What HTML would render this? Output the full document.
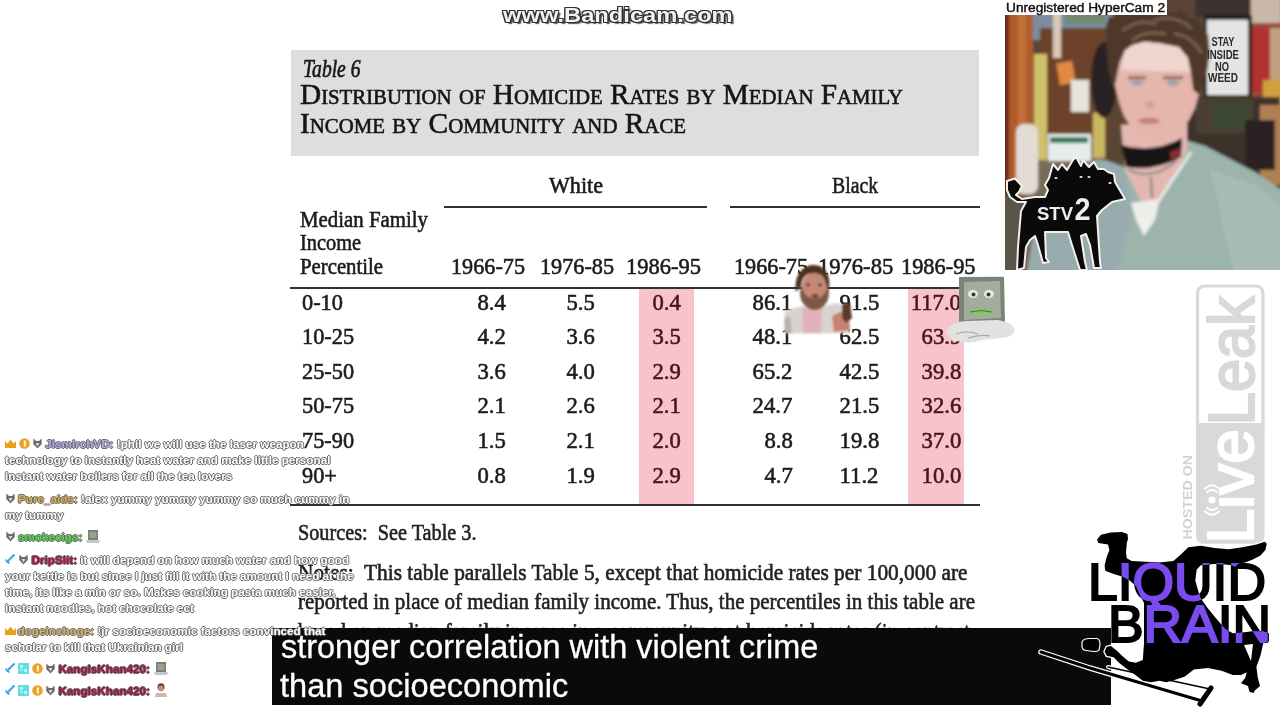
<!DOCTYPE html>
<html><head><meta charset="utf-8">
<style>
html,body{margin:0;padding:0;width:1280px;height:720px;overflow:hidden;background:#fff;}
body{position:relative;}
.a{position:absolute;}
.t{position:absolute;white-space:nowrap;}
.rule{position:absolute;background:#303030;}
.tt{-webkit-text-stroke:0.6px currentColor;}
.pink{position:absolute;background:#f7c4cb;}
.sub{z-index:6;-webkit-text-stroke:0.3px #fff;}
.bandi{z-index:9;text-shadow:0 0 1px #222,1px 1px 0 #333,-1px -1px 0 #333,1px -1px 0 #333,-1px 1px 0 #333,2px 2px 1px #555;}
.hyper{z-index:9;-webkit-text-stroke:0.4px #111;}
#chat{position:absolute;left:0;top:0;z-index:8;font-family:'Liberation Sans',sans-serif;font-weight:bold;font-size:11.7px;line-height:16px;color:#fff;}
#chat .ln{position:absolute;left:5px;white-space:nowrap;text-shadow:1px 0 0 #6a6a6a,-1px 0 0 #6a6a6a,0 1px 0 #6a6a6a,0 -1px 0 #6a6a6a;}
</style></head>
<body>
<!-- title box -->
<div class="a" style="left:291px;top:50px;width:688px;height:105.5px;background:#dedede;"></div>
<!-- rules -->
<div class="rule" style="left:444px;top:206px;width:263px;height:2px;"></div>
<div class="rule" style="left:730px;top:206px;width:250px;height:2px;"></div>
<div class="rule" style="left:290px;top:287px;width:690px;height:2px;"></div>
<div class="pink" style="left:639px;top:289px;width:55px;height:215px;"></div>
<div class="pink" style="left:908px;top:289px;width:56px;height:215px;"></div>
<div class="rule" style="left:290px;top:504px;width:690px;height:2px;"></div>
<!-- subtitle box -->
<div class="a" style="left:272px;top:628px;width:839px;height:77px;background:#0a0a0a;z-index:5;"></div>

<!-- webcam -->
<svg class="a" style="left:1005px;top:0;z-index:3" width="275" height="270" viewBox="0 0 275 270">
<defs>
<filter id="bl" x="-5%" y="-5%" width="110%" height="110%"><feGaussianBlur stdDeviation="1.6"/></filter>
<filter id="bl2"><feGaussianBlur stdDeviation="0.6"/></filter>
<clipPath id="wc"><rect width="275" height="270"/></clipPath>
</defs>
<g clip-path="url(#wc)">
<g filter="url(#bl)">
<rect x="-5" y="-5" width="290" height="280" fill="#5a4436"/>
<!-- door frame -->
<rect x="-5" y="-5" width="10" height="280" fill="#6a2c1e"/>
<rect x="4" y="-5" width="24" height="280" fill="#b05c2c"/>
<rect x="13" y="-5" width="8" height="280" fill="#c0703a"/>
<!-- wall top -->
<rect x="28" y="10" width="80" height="30" fill="#7d8ca0"/>
<rect x="60" y="10" width="40" height="14" fill="#6f8a70"/>
<!-- board -->
<rect x="35" y="28" width="70" height="110" fill="#6c422c"/>
<rect x="36" y="138" width="60" height="40" fill="#7a6048"/>
<!-- figure hanging -->
<rect x="48" y="10" width="8" height="48" fill="#d8c8b8"/>
<!-- orange note -->
<rect x="53" y="62" width="16" height="22" fill="#e08a40" transform="rotate(-10 61 73)"/>
<!-- small paper -->
<rect x="66" y="80" width="18" height="32" fill="#e8e4dc"/>
<!-- caution tapes -->
<rect x="29" y="54" width="13" height="130" fill="#cfc06a"/>
<rect x="88" y="113" width="12" height="45" fill="#c8b860"/>
<!-- hat fur -->
<ellipse cx="99" cy="80" rx="13" ry="38" fill="#2c2420"/>
<!-- posters right -->
<rect x="240" y="-5" width="40" height="125" fill="#9a4a3a"/>
<rect x="246" y="-5" width="30" height="28" fill="#c8b8a8"/>
<rect x="247" y="28" width="18" height="64" fill="#b03030"/>
<rect x="265" y="28" width="15" height="55" fill="#c0a080"/>
<rect x="258" y="80" width="22" height="38" fill="#d0a040"/>
<rect x="190" y="-5" width="55" height="22" fill="#3a3230"/>
<!-- sign -->
<rect x="199" y="15" width="48" height="84" fill="#1e1a18"/>
<rect x="202" y="20" width="41" height="75" fill="#e4e4e2"/>
<!-- dark area right mid -->
<rect x="175" y="97" width="100" height="100" fill="#3e332c"/>
<rect x="191" y="98" width="57" height="35" fill="#4a4030"/>
<rect x="208" y="105" width="34" height="22" fill="#3a4a30"/>
<rect x="255" y="105" width="25" height="80" fill="#b08052"/>
<rect x="240" y="120" width="30" height="50" fill="#2a2422"/>
<!-- lower-left background -->
<rect x="20" y="160" width="80" height="115" fill="#7a6a58"/>
<rect x="-5" y="195" width="25" height="80" fill="#5a5448"/>
<!-- white sticker -->
<rect x="11" y="124" width="22" height="70" rx="8" fill="#e4dcd4"/>
<!-- emergency sign -->
<rect x="43" y="134" width="43" height="27" fill="#e8ecea"/>
<rect x="45" y="137" width="38" height="6" fill="#2a7a5a"/>
<!-- shirt -->
<path d="M30 225 L60 185 L90 160 L100 160 L122 168 L140 205 L155 203 L180 140 L200 146 L250 172 L280 192 L280 275 L22 275 Z" fill="#9cb4ac"/>
<path d="M30 225 L60 185 L90 160 L100 160 L118 168 L128 210 L112 275 L22 275 Z" fill="#98acb0"/>
<path d="M205 170 L250 185 L275 205 L280 275 L230 275 Z" fill="#a8bcb6"/>
<!-- neck -->
<path d="M116 125 L182 120 L182 150 L170 175 L155 203 L137 203 L120 170 Z" fill="#e4b8b0"/>
<!-- undershirt -->
<path d="M126 203 L155 199 L150 220 L139 236 L131 220 Z" fill="#eeeeea"/>
<path d="M154 200 L186 152" stroke="#e8ece8" stroke-width="3"/>
<!-- face -->
<path d="M109.8,85 L114.3,63 L119.7,50.5 L127,45 L139.6,41.5 L155.8,43.3 L174,47 L183,57.8 L186.5,75.8 L188.3,90 L193.8,94 L190,108 L184,120 L176,131 L163,139 L150,141 L138,138 L127,129 L119,116 L114,102 Z" fill="#e4b6ac"/>
<path d="M116,70 L119.7,50.5 L127,45 L139.6,41.5 L155.8,43.3 L174,47 L183,57.8 L186,72 Z" fill="#f0d6ce"/>
<!-- hair -->
<path d="M100.8,27 L104,17 L112,16 L118,11 L128,14 L136,9 L146,13 L156,8 L166,13 L176,11 L184,18 L194,20 L197,28 L203,34 L204.6,50.5 L202.8,68.6 L197.4,85 L193.8,94 L188.3,90 L186.5,75.8 L183,57.8 L174,47 L155.8,43.3 L139.6,41.5 L127,45 L119.7,50.5 L114.3,63 L111.6,77.6 L109.8,85 L107,85 L103.5,68.6 L101.7,45 Z" fill="#4e382a"/>
<g stroke="#76604e" stroke-width="3" fill="none" stroke-linecap="round"><path d="M118 30 Q135 18 150 24"/><path d="M150 20 Q170 14 186 28"/><path d="M128 40 Q140 30 160 34"/><path d="M170 34 Q186 36 196 52"/></g>
<!-- eyes/brows/mouth -->
<rect x="123" y="76" width="18" height="3.5" fill="#9a7068"/>
<rect x="158" y="76" width="20" height="3.5" fill="#9a7068"/>
<ellipse cx="132" cy="83" rx="6.5" ry="2.8" fill="#98a4a8"/>
<ellipse cx="168" cy="83" rx="6.5" ry="2.8" fill="#98a4a8"/>
<ellipse cx="145" cy="105" rx="5" ry="4" fill="#d8a098"/>
<ellipse cx="144" cy="121" rx="11" ry="3.2" fill="#c88078"/>
<!-- choker -->
<path d="M116 145 Q148 154 177 138 L176 157 Q150 172 121 167 Z" fill="#161616"/>
<path d="M165 152 L175 148 L175 156 L166 160 Z" fill="#8a2a30"/>
<path d="M124 170 Q148 182 172 160" stroke="#8a8a88" stroke-width="2.2" fill="none"/>
<path d="M146 177 L147 198" stroke="#7a7a78" stroke-width="2" fill="none"/>
</g>
<!-- sign text -->
<g font-family="'Liberation Sans',sans-serif" font-weight="bold" font-size="12" fill="#2a2a2a" text-anchor="middle" filter="url(#bl2)">
<text x="218" y="46" textLength="23" lengthAdjust="spacingAndGlyphs">STAY</text><text x="218" y="58.5" textLength="32" lengthAdjust="spacingAndGlyphs">INSIDE</text><text x="217" y="70.5" textLength="14" lengthAdjust="spacingAndGlyphs">NO</text><text x="218" y="82" textLength="30" lengthAdjust="spacingAndGlyphs">WEED</text>
</g>
<!-- dog -->
<path d="M2 181 L10 178.5 L17 186 L14 192 L11 195 L17 199 L30 197 L40 197 L43 190 L40 185 L44 178 L48 164 L53 170 L57 164 L62 170 L68 160 L71 157 L76 166 L78 160 L84 167 L89 162 L93 169 L99 169 L103 172 L109 174 L110 182 L120 199 L107 202 L97 210 L92 216 L95 262 L96 268 L89 268 L85 245 L81 234 L76 236 L80 262 L82 270 L75 270 L67 245 L63 232 L40 232 L41 258 L44 262 L38 263 L33 245 L30 236 L25 240 L21 247 L19 268 L12 270 L13 247 L16 211 L21 202 L12 202 L5 197 L2 190 Z" fill="#0a0a0a" stroke="#f4f0ec" stroke-width="2" stroke-linejoin="round"/>
<g fill="#eee" font-family="'Liberation Sans',sans-serif" font-weight="bold">
<text x="32" y="219.5" font-size="19" textLength="36" lengthAdjust="spacingAndGlyphs">STV</text>
<text x="69.6" y="219.5" font-size="31" textLength="16" lengthAdjust="spacingAndGlyphs">2</text>
</g>
<ellipse cx="51" cy="178" rx="1.6" ry="1" fill="#eee"/><ellipse cx="76" cy="177" rx="1.6" ry="1" fill="#eee"/><ellipse cx="84" cy="177" rx="1.6" ry="1" fill="#eee"/><ellipse cx="105" cy="183" rx="1.6" ry="1" fill="#eee"/>
</g>
</svg>
<div class="a" style="left:1004px;top:0;width:163px;height:15px;background:#fff;z-index:4"></div>

<!-- LiveLeak watermark -->
<svg class="a" style="left:1175px;top:280px;z-index:2" width="100" height="270" viewBox="1175 280 100 270">
<path d="M1197.5 425 L1197.5 294 Q1197.5 286 1205.5 286 L1255 286 Q1263 286 1263 294 L1263 425" fill="none" stroke="#d9d9d9" stroke-width="3.2"/>
<path d="M1195.9 423 L1264.6 423 L1264.6 535 Q1264.6 543.7 1256 543.7 L1204.5 543.7 Q1195.9 543.7 1195.9 535 Z" fill="#d9d9d9"/>
<g font-family="'Liberation Sans',sans-serif" font-size="64" stroke-width="2.2">
<text transform="translate(1253.5 425.2) rotate(-90)" fill="#d9d9d9" stroke="#d9d9d9" textLength="129" lengthAdjust="spacingAndGlyphs">Leak</text>
<text transform="translate(1253 543.5) rotate(-90)" fill="#fff" stroke="#fff" textLength="114.5" lengthAdjust="spacingAndGlyphs">Live</text>
</g>
<rect x="1201" y="484" width="18" height="30" fill="#d9d9d9"/>
<g fill="none" stroke="#fff" stroke-width="2" stroke-linecap="round"><path d="M1207 492 Q1212 488 1217 492"/><path d="M1207 508 Q1212 512 1217 508"/><path d="M1205 488.5 Q1212 482 1219 488.5"/><path d="M1205 511.5 Q1212 518 1219 511.5"/></g>
<circle cx="1212" cy="500" r="3.6" fill="#fff"/>
<text transform="translate(1191.5 539.5) rotate(-90)" font-family="'Liberation Sans',sans-serif" font-weight="bold" font-size="13.5" fill="#d2d2d2" textLength="84.5" lengthAdjust="spacingAndGlyphs">HOSTED ON</text>
</svg>
<!-- Liquid Brain logo -->
<svg class="a" style="left:1030px;top:520px;z-index:7" width="250" height="200" viewBox="1030 520 250 200">
<defs>
<clipPath id="silc"><path id="silp" d="M1097,539.6 L1101,534.7 L1110.8,532.6 L1122,532 L1127.5,534 L1128,539 L1126.8,543 L1126,552.8 L1126.8,558.3 L1131.7,561 L1145.6,561.8 L1159.4,562.5 L1173.3,561 L1180.3,555 L1188.3,547.2 L1200.8,545.8 L1214.7,548 L1228.6,549.3 L1242.5,547.2 L1256.4,544.4 L1264.7,541.7 L1266.8,543.75 L1265.4,550 L1260.5,555.5 L1252.2,559.7 L1245.3,562.5 L1238.3,563.5 L1235.6,566.7 L1231.4,565.3 L1225.8,564.6 L1214.7,563.9 L1207.8,564.6 L1200.8,565.3 L1196.7,569.4 L1195.3,580.5 L1198,590.3 L1200.8,598.6 L1207.8,608.3 L1214.7,616.7 L1221.7,625 L1225.8,629.2 L1232.8,633.3 L1242.5,632.6 L1252.2,631.25 L1263.3,631.25 L1268.9,633.3 L1268.9,641.7 L1263.3,643 L1260.5,655.6 L1256.4,666.7 L1257.8,677.8 L1260,686 L1255,690.3 L1253.6,693 L1249.4,691.7 L1248,686 L1241,683.3 L1245.3,677.8 L1246.7,672.2 L1241,675 L1232.8,675 L1221.7,670.8 L1207.8,668 L1193.9,669.4 L1184.4,676.7 L1176,679.4 L1166.4,682.2 L1159.4,680.8 L1151,682.2 L1142.8,680.8 L1135.8,675.3 L1126,668.3 L1119,662.8 L1113.6,657.2 L1106.7,655.8 L1104.6,651.7 L1106.7,646.8 L1110.8,646 L1116.4,650.3 L1122,655.8 L1128.9,661.4 L1135.8,662.8 L1142.8,660 L1144,643.3 L1144,603 L1140,595 L1136,586 L1129,580 L1122,576.4 L1112.2,573.6 L1105.3,570.8 L1104.6,565.3 L1106.7,557 L1109.4,550 L1108,544.4 L1098.3,543 Z"/></clipPath>
</defs>
<use href="#silp" fill="none" stroke="#fff" stroke-width="2.6"/>
<g font-family="'Liberation Sans',sans-serif" font-size="51" stroke="#000" stroke-width="2">
<text x="1088" y="600" textLength="178" lengthAdjust="spacingAndGlyphs" fill="#000">LIQUID</text>
<text x="1108" y="641.7" textLength="163" lengthAdjust="spacingAndGlyphs" fill="#000">BRAIN</text>
</g>
<!-- crutch -->
<g stroke-linecap="round">
<path d="M1041 652 L1090 668 L1202 701" stroke="#fff" stroke-width="5.5" fill="none"/>
<path d="M1108 667 L1210 689" stroke="#fff" stroke-width="4"/>
<path d="M1041 652 L1090 668 L1202 701" stroke="#000" stroke-width="3" fill="none"/>
<path d="M1108 667 L1210 689" stroke="#000" stroke-width="1.6"/>
<path d="M1211 688 L1200 704" stroke="#000" stroke-width="5"/>
</g>
<path d="M1082 642 Q1083 638.5 1090 638.5 L1097 638.5 Q1100 639 1100 645 L1099 650 Q1098 651.5 1094 651.5 L1086 650.5 Q1081.5 650 1082 645 Z" fill="#000" stroke="#fff" stroke-width="1.2"/>
<use href="#silp" fill="#000"/>
<path d="M1244,645 L1253,644 L1251,661 Z" fill="#fff"/>
<g clip-path="url(#silc)" font-family="'Liberation Sans',sans-serif" font-size="51" stroke="#7a4cf0" stroke-width="2">
<text x="1088" y="600" textLength="178" lengthAdjust="spacingAndGlyphs" fill="#7a4cf0">LIQUID</text>
<text x="1108" y="641.7" textLength="163" lengthAdjust="spacingAndGlyphs" fill="#7a4cf0">BRAIN</text>
</g>
</svg>

<!-- meme man -->
<svg class="a" style="left:780px;top:262px;z-index:4" width="80" height="75" viewBox="780 262 80 75">
<defs><filter id="mb"><feGaussianBlur stdDeviation="0.8"/></filter></defs>
<g filter="url(#mb)">
<path d="M784.5 333.3 L784.5 312 L792 308.5 L803 306 L822 306 L838 303 L846 308 L850 333.3 Z" fill="#d8d2d0"/>
<path d="M802 309 L822 308 L821 333.3 L803 333.3 Z" fill="#e2b2ba"/>
<path d="M784.5 318 L790 316 L792 333.3 L784.5 333.3 Z" fill="#b8b2b0"/>
<ellipse cx="814.5" cy="293" rx="14.5" ry="17" fill="#7a5a48"/>
<ellipse cx="814.5" cy="285.5" rx="12.5" ry="13" fill="#c48878"/>
<path d="M796 292 C794 278 800 266 813 265 C826 265 831 276 829 290 L826 284 C825 276 820 273 814 273 C806 273 802 277 801 286 Z" fill="#4a3022"/>
<path d="M803 297 Q814 306 826 297 Q823 302 814 303 Q805 302 803 297 Z" fill="#7a5a48"/>
<ellipse cx="808" cy="285" rx="2.2" ry="1.4" fill="#5a3830"/><ellipse cx="820" cy="285" rx="2.2" ry="1.4" fill="#5a3830"/>
<ellipse cx="815" cy="296" rx="3.5" ry="2.2" fill="#8a4038"/>
<path d="M832 316 L840 312 L849 314 L850 330 L834 332 Z" fill="#c88070"/>
<path d="M842 304 L850 303 L852 318 L846 323 L842 318 Z" fill="#5a3a28"/>
</g>
</svg>
<!-- dollar bill meme -->
<svg class="a" style="left:940px;top:272px;z-index:4" width="80" height="76" viewBox="940 272 80 76">
<defs><filter id="db"><feGaussianBlur stdDeviation="0.7"/></filter></defs>
<g filter="url(#db)">
<path d="M959 277 L1004 276.8 L1005 323 L959 324 Z" fill="#7c8474"/>
<path d="M964 282 L1000 281 L1001 318 L964 320 Z" fill="#a4aca0"/>
<ellipse cx="973" cy="294" rx="5" ry="4" fill="#e8ece4"/><ellipse cx="989" cy="294" rx="5" ry="4" fill="#e8ece4"/>
<circle cx="973.5" cy="294.5" r="2" fill="#303830"/><circle cx="988.5" cy="294.5" r="2" fill="#303830"/>
<ellipse cx="981" cy="312" rx="12" ry="4" fill="#8cc070"/>
<path d="M970 312 Q981 309 992 312" stroke="#4a7040" stroke-width="1" fill="none"/>
<path d="M946 332 Q950 322 966 321 L998 320 Q1012 322 1015 330 Q1012 338 1000 338 L982 340 Q972 344 962 342 Q948 340 946 332 Z" fill="#e2e2e0"/>
<path d="M956 334 Q966 330 978 334 M968 338 Q980 334 990 336" stroke="#a8a8a8" stroke-width="1.2" fill="none"/>
</g>
</svg>
<div id="chat"><svg class="a" style="left:5px;top:439.3px" width="11" height="9" viewBox="0 0 11 9"><path d="M0 2 L2.5 4.5 L5.5 0.5 L8.5 4.5 L11 2 L11 9 L0 9 Z" fill="#e8a020"/></svg>
<svg class="a" style="left:18.5px;top:438.3px" width="11" height="11" viewBox="0 0 11 11"><circle cx="5.5" cy="5.5" r="5.3" fill="#eaa22a"/><rect x="4.8" y="2.5" width="2" height="6" fill="#fff4d8"/></svg>
<svg class="a" style="left:32.5px;top:438.3px" width="9" height="11" viewBox="0 0 9 11"><path d="M0.5 0.5 L3 3 L6 3 L8.5 0.5 L8.8 6 L4.5 10.5 L0.2 6 Z" fill="#6a6a6a"/><path d="M2.5 5 L4.5 8.5 L6.5 5 Z" fill="#d8d8d8"/></svg>
<div class="ln" style="left:45.3px;top:436.2px"><span style="color:#bba4ea">JismirchVD:</span> !phil we will use the laser weapon</div>
<div class="ln" style="left:5px;top:452.2px">technology to instantly heat water and make little personal</div>
<div class="ln" style="left:5px;top:468.1px">instant water boilers for all the tea lovers</div>
<svg class="a" style="left:5.5px;top:493px" width="9" height="11" viewBox="0 0 9 11"><path d="M0.5 0.5 L3 3 L6 3 L8.5 0.5 L8.8 6 L4.5 10.5 L0.2 6 Z" fill="#6a6a6a"/><path d="M2.5 5 L4.5 8.5 L6.5 5 Z" fill="#d8d8d8"/></svg>
<div class="ln" style="left:18px;top:490.9px"><span style="color:#deb04e">Pure_aids:</span> !alex yummy yummy yummy so much cummy in</div>
<div class="ln" style="left:5px;top:506.9px">my tummy</div>
<svg class="a" style="left:5.5px;top:531.4px" width="9" height="11" viewBox="0 0 9 11"><path d="M0.5 0.5 L3 3 L6 3 L8.5 0.5 L8.8 6 L4.5 10.5 L0.2 6 Z" fill="#6a6a6a"/><path d="M2.5 5 L4.5 8.5 L6.5 5 Z" fill="#d8d8d8"/></svg>
<svg class="a" style="left:86px;top:529.4px" width="14" height="14" viewBox="0 0 14 14"><rect x="2" y="1" width="10" height="10" fill="#7a8070"/><rect x="3.5" y="3" width="7" height="6" fill="#9aa090"/><path d="M0 11 L14 11 L13 14 L1 14 Z" fill="#c8c8c8"/></svg>
<div class="ln" style="left:18px;top:529.4px"><span style="color:#52dc44">smokecigs:</span></div>
<svg class="a" style="left:5px;top:554px" width="10" height="10" viewBox="0 0 10 10"><path d="M9.5 0.5 L1.5 8.5" stroke="#3fa9e0" stroke-width="2.2"/><path d="M0.5 5.5 L4.5 9.5" stroke="#3fa9e0" stroke-width="1.6"/></svg>
<svg class="a" style="left:19px;top:554px" width="9" height="11" viewBox="0 0 9 11"><path d="M0.5 0.5 L3 3 L6 3 L8.5 0.5 L8.8 6 L4.5 10.5 L0.2 6 Z" fill="#6a6a6a"/><path d="M2.5 5 L4.5 8.5 L6.5 5 Z" fill="#d8d8d8"/></svg>
<div class="ln" style="left:31.6px;top:552.0px"><span style="color:#b5123f">DripSlit:</span> it will depend on how much water and how good</div>
<div class="ln" style="left:5px;top:567.8px">your kettle is but since I just fill it with the amount I need at the</div>
<div class="ln" style="left:5px;top:583.7px">time, its like a min or so. Makes cooking pasta much easier,</div>
<div class="ln" style="left:5px;top:599.8px">instant noodles, hot chocolate ect</div>
<svg class="a" style="left:5px;top:625.7px" width="11" height="9" viewBox="0 0 11 9"><path d="M0 2 L2.5 4.5 L5.5 0.5 L8.5 4.5 L11 2 L11 9 L0 9 Z" fill="#e8a020"/></svg>
<div class="ln" style="left:17.6px;top:622.7px"><span style="color:#d9b46a">dogeinchoge:</span> !jr socioeconomic factors convinced that</div>
<div class="ln" style="left:5px;top:638.9px">scholar to kill that Ukrainian girl</div>
<svg class="a" style="left:5px;top:662.7px" width="10" height="10" viewBox="0 0 10 10"><path d="M9.5 0.5 L1.5 8.5" stroke="#3fa9e0" stroke-width="2.2"/><path d="M0.5 5.5 L4.5 9.5" stroke="#3fa9e0" stroke-width="1.6"/></svg>
<svg class="a" style="left:18.3px;top:662.7px" width="11" height="11" viewBox="0 0 11 11"><rect x="0" y="0" width="11" height="11" fill="#5ee0e0"/><rect x="2" y="2" width="3" height="3" fill="#bdf4f4"/><rect x="6" y="6" width="3" height="3" fill="#bdf4f4"/><rect x="2" y="6" width="3" height="2" fill="#9ee"/></svg>
<svg class="a" style="left:31.6px;top:662.7px" width="11" height="11" viewBox="0 0 11 11"><circle cx="5.5" cy="5.5" r="5.3" fill="#eaa22a"/><rect x="4.8" y="2.5" width="2" height="6" fill="#fff4d8"/></svg>
<svg class="a" style="left:46px;top:662.7px" width="9" height="11" viewBox="0 0 9 11"><path d="M0.5 0.5 L3 3 L6 3 L8.5 0.5 L8.8 6 L4.5 10.5 L0.2 6 Z" fill="#6a6a6a"/><path d="M2.5 5 L4.5 8.5 L6.5 5 Z" fill="#d8d8d8"/></svg>
<svg class="a" style="left:154px;top:660.7px" width="14" height="14" viewBox="0 0 14 14"><rect x="2" y="1" width="10" height="10" fill="#7a8070"/><rect x="3.5" y="3" width="7" height="6" fill="#9aa090"/><path d="M0 11 L14 11 L13 14 L1 14 Z" fill="#c8c8c8"/></svg>
<div class="ln" style="left:58.4px;top:660.7px"><span style="color:#a3143d">KangIsKhan420:</span></div>
<svg class="a" style="left:5px;top:685.2px" width="10" height="10" viewBox="0 0 10 10"><path d="M9.5 0.5 L1.5 8.5" stroke="#3fa9e0" stroke-width="2.2"/><path d="M0.5 5.5 L4.5 9.5" stroke="#3fa9e0" stroke-width="1.6"/></svg>
<svg class="a" style="left:18.3px;top:685.2px" width="11" height="11" viewBox="0 0 11 11"><rect x="0" y="0" width="11" height="11" fill="#5ee0e0"/><rect x="2" y="2" width="3" height="3" fill="#bdf4f4"/><rect x="6" y="6" width="3" height="3" fill="#bdf4f4"/><rect x="2" y="6" width="3" height="2" fill="#9ee"/></svg>
<svg class="a" style="left:31.6px;top:685.2px" width="11" height="11" viewBox="0 0 11 11"><circle cx="5.5" cy="5.5" r="5.3" fill="#eaa22a"/><rect x="4.8" y="2.5" width="2" height="6" fill="#fff4d8"/></svg>
<svg class="a" style="left:46px;top:685.2px" width="9" height="11" viewBox="0 0 9 11"><path d="M0.5 0.5 L3 3 L6 3 L8.5 0.5 L8.8 6 L4.5 10.5 L0.2 6 Z" fill="#6a6a6a"/><path d="M2.5 5 L4.5 8.5 L6.5 5 Z" fill="#d8d8d8"/></svg>
<svg class="a" style="left:154px;top:683.2px" width="14" height="14" viewBox="0 0 14 14"><ellipse cx="7" cy="4" rx="3.5" ry="3.8" fill="#6a4030"/><ellipse cx="7" cy="5.5" rx="2.6" ry="3" fill="#c89080"/><path d="M1 14 L2 10 L12 10 L13 14 Z" fill="#c8b8b0"/></svg>
<div class="ln" style="left:58.4px;top:683.2px"><span style="color:#a3143d">KangIsKhan420:</span></div></div>
<div class="t  tt" style="top:55.8px;left:302.5px;transform-origin:left top;font-family:'Liberation Serif', serif;font-size:25.5px;line-height:25.5px;color:#1a1a1a;font-weight:normal;font-style:italic;transform:scaleX(0.7679);-webkit-text-stroke:0.7px #1a1a1a;">Table 6</div>
<div class="t  tt" style="top:80.2px;left:300.0px;transform-origin:left top;font-family:'Liberation Serif', serif;font-size:29.6px;line-height:29.6px;color:#151515;font-weight:normal;font-style:normal;font-variant:small-caps;transform:scaleX(0.9893);">Distribution of Homicide Rates by Median Family</div>
<div class="t  tt" style="top:109.4px;left:300.0px;transform-origin:left top;font-family:'Liberation Serif', serif;font-size:29.6px;line-height:29.6px;color:#151515;font-weight:normal;font-style:normal;font-variant:small-caps;transform:scaleX(0.9916);">Income by Community and Race</div>
<div class="t  tt" style="top:173.7px;left:549.0px;transform-origin:left top;font-family:'Liberation Serif', serif;font-size:23px;line-height:23px;color:#1c1c1c;font-weight:normal;font-style:normal;transform:scaleX(0.9608);">White</div>
<div class="t  tt" style="top:173.7px;left:831.6px;transform-origin:left top;font-family:'Liberation Serif', serif;font-size:23px;line-height:23px;color:#1c1c1c;font-weight:normal;font-style:normal;transform:scaleX(0.8573);">Black</div>
<div class="t  tt" style="top:208.2px;left:300.0px;transform-origin:left top;font-family:'Liberation Serif', serif;font-size:23px;line-height:23px;color:#1c1c1c;font-weight:normal;font-style:normal;transform:scaleX(0.9066);">Median Family</div>
<div class="t  tt" style="top:231.2px;left:300.0px;transform-origin:left top;font-family:'Liberation Serif', serif;font-size:23px;line-height:23px;color:#1c1c1c;font-weight:normal;font-style:normal;transform:scaleX(0.8845);">Income</div>
<div class="t  tt" style="top:254.5px;left:300.0px;transform-origin:left top;font-family:'Liberation Serif', serif;font-size:23px;line-height:23px;color:#1c1c1c;font-weight:normal;font-style:normal;transform:scaleX(0.9025);">Percentile</div>
<div class="t  tt" style="top:255.3px;left:451.0px;transform-origin:left top;font-family:'Liberation Serif', serif;font-size:23px;line-height:23px;color:#1c1c1c;font-weight:normal;font-style:normal;transform:scaleX(0.9652);">1966-75</div>
<div class="t  tt" style="top:255.3px;left:539.7px;transform-origin:left top;font-family:'Liberation Serif', serif;font-size:23px;line-height:23px;color:#1c1c1c;font-weight:normal;font-style:normal;transform:scaleX(0.9665);">1976-85</div>
<div class="t  tt" style="top:255.3px;left:626.0px;transform-origin:left top;font-family:'Liberation Serif', serif;font-size:23px;line-height:23px;color:#1c1c1c;font-weight:normal;font-style:normal;transform:scaleX(0.9782);">1986-95</div>
<div class="t  tt" style="top:255.3px;left:734.4px;transform-origin:left top;font-family:'Liberation Serif', serif;font-size:23px;line-height:23px;color:#1c1c1c;font-weight:normal;font-style:normal;transform:scaleX(0.9665);">1966-75</div>
<div class="t  tt" style="top:255.3px;left:817.5px;transform-origin:left top;font-family:'Liberation Serif', serif;font-size:23px;line-height:23px;color:#1c1c1c;font-weight:normal;font-style:normal;transform:scaleX(0.9808);">1976-85</div>
<div class="t  tt" style="top:255.3px;left:900.7px;transform-origin:left top;font-family:'Liberation Serif', serif;font-size:23px;line-height:23px;color:#1c1c1c;font-weight:normal;font-style:normal;transform:scaleX(0.9717);">1986-95</div>
<div class="t  tt" style="top:290.7px;left:301.5px;transform-origin:left top;font-family:'Liberation Serif', serif;font-size:23px;line-height:23px;color:#1c1c1c;font-weight:normal;font-style:normal;transform:scaleX(0.97);">0-10</div>
<div class="t  tt" style="top:290.7px;right:774.5px;transform-origin:right top;font-family:'Liberation Serif', serif;font-size:23px;line-height:23px;color:#1c1c1c;font-weight:normal;font-style:normal;transform:scaleX(0.985);">8.4</div>
<div class="t  tt" style="top:290.7px;right:685.5px;transform-origin:right top;font-family:'Liberation Serif', serif;font-size:23px;line-height:23px;color:#1c1c1c;font-weight:normal;font-style:normal;transform:scaleX(0.985);">5.5</div>
<div class="t  tt" style="top:290.7px;right:599.2px;transform-origin:right top;font-family:'Liberation Serif', serif;font-size:23px;line-height:23px;color:#4a1420;font-weight:normal;font-style:normal;transform:scaleX(0.985);">0.4</div>
<div class="t  tt" style="top:290.7px;right:487.5px;transform-origin:right top;font-family:'Liberation Serif', serif;font-size:23px;line-height:23px;color:#1c1c1c;font-weight:normal;font-style:normal;transform:scaleX(0.985);">86.1</div>
<div class="t  tt" style="top:290.7px;right:401.2px;transform-origin:right top;font-family:'Liberation Serif', serif;font-size:23px;line-height:23px;color:#1c1c1c;font-weight:normal;font-style:normal;transform:scaleX(0.985);">91.5</div>
<div class="t  tt" style="top:290.7px;right:318.7px;transform-origin:right top;font-family:'Liberation Serif', serif;font-size:23px;line-height:23px;color:#4a1420;font-weight:normal;font-style:normal;transform:scaleX(0.985);">117.0</div>
<div class="t  tt" style="top:325.2px;left:301.5px;transform-origin:left top;font-family:'Liberation Serif', serif;font-size:23px;line-height:23px;color:#1c1c1c;font-weight:normal;font-style:normal;transform:scaleX(0.97);">10-25</div>
<div class="t  tt" style="top:325.2px;right:774.5px;transform-origin:right top;font-family:'Liberation Serif', serif;font-size:23px;line-height:23px;color:#1c1c1c;font-weight:normal;font-style:normal;transform:scaleX(0.985);">4.2</div>
<div class="t  tt" style="top:325.2px;right:685.5px;transform-origin:right top;font-family:'Liberation Serif', serif;font-size:23px;line-height:23px;color:#1c1c1c;font-weight:normal;font-style:normal;transform:scaleX(0.985);">3.6</div>
<div class="t  tt" style="top:325.2px;right:599.2px;transform-origin:right top;font-family:'Liberation Serif', serif;font-size:23px;line-height:23px;color:#4a1420;font-weight:normal;font-style:normal;transform:scaleX(0.985);">3.5</div>
<div class="t  tt" style="top:325.2px;right:487.5px;transform-origin:right top;font-family:'Liberation Serif', serif;font-size:23px;line-height:23px;color:#1c1c1c;font-weight:normal;font-style:normal;transform:scaleX(0.985);">48.1</div>
<div class="t  tt" style="top:325.2px;right:401.2px;transform-origin:right top;font-family:'Liberation Serif', serif;font-size:23px;line-height:23px;color:#1c1c1c;font-weight:normal;font-style:normal;transform:scaleX(0.985);">62.5</div>
<div class="t  tt" style="top:325.2px;right:318.7px;transform-origin:right top;font-family:'Liberation Serif', serif;font-size:23px;line-height:23px;color:#4a1420;font-weight:normal;font-style:normal;transform:scaleX(0.985);">63.9</div>
<div class="t  tt" style="top:359.7px;left:301.5px;transform-origin:left top;font-family:'Liberation Serif', serif;font-size:23px;line-height:23px;color:#1c1c1c;font-weight:normal;font-style:normal;transform:scaleX(0.97);">25-50</div>
<div class="t  tt" style="top:359.7px;right:774.5px;transform-origin:right top;font-family:'Liberation Serif', serif;font-size:23px;line-height:23px;color:#1c1c1c;font-weight:normal;font-style:normal;transform:scaleX(0.985);">3.6</div>
<div class="t  tt" style="top:359.7px;right:685.5px;transform-origin:right top;font-family:'Liberation Serif', serif;font-size:23px;line-height:23px;color:#1c1c1c;font-weight:normal;font-style:normal;transform:scaleX(0.985);">4.0</div>
<div class="t  tt" style="top:359.7px;right:599.2px;transform-origin:right top;font-family:'Liberation Serif', serif;font-size:23px;line-height:23px;color:#4a1420;font-weight:normal;font-style:normal;transform:scaleX(0.985);">2.9</div>
<div class="t  tt" style="top:359.7px;right:487.5px;transform-origin:right top;font-family:'Liberation Serif', serif;font-size:23px;line-height:23px;color:#1c1c1c;font-weight:normal;font-style:normal;transform:scaleX(0.985);">65.2</div>
<div class="t  tt" style="top:359.7px;right:401.2px;transform-origin:right top;font-family:'Liberation Serif', serif;font-size:23px;line-height:23px;color:#1c1c1c;font-weight:normal;font-style:normal;transform:scaleX(0.985);">42.5</div>
<div class="t  tt" style="top:359.7px;right:318.7px;transform-origin:right top;font-family:'Liberation Serif', serif;font-size:23px;line-height:23px;color:#4a1420;font-weight:normal;font-style:normal;transform:scaleX(0.985);">39.8</div>
<div class="t  tt" style="top:394.2px;left:301.5px;transform-origin:left top;font-family:'Liberation Serif', serif;font-size:23px;line-height:23px;color:#1c1c1c;font-weight:normal;font-style:normal;transform:scaleX(0.97);">50-75</div>
<div class="t  tt" style="top:394.2px;right:774.5px;transform-origin:right top;font-family:'Liberation Serif', serif;font-size:23px;line-height:23px;color:#1c1c1c;font-weight:normal;font-style:normal;transform:scaleX(0.985);">2.1</div>
<div class="t  tt" style="top:394.2px;right:685.5px;transform-origin:right top;font-family:'Liberation Serif', serif;font-size:23px;line-height:23px;color:#1c1c1c;font-weight:normal;font-style:normal;transform:scaleX(0.985);">2.6</div>
<div class="t  tt" style="top:394.2px;right:599.2px;transform-origin:right top;font-family:'Liberation Serif', serif;font-size:23px;line-height:23px;color:#4a1420;font-weight:normal;font-style:normal;transform:scaleX(0.985);">2.1</div>
<div class="t  tt" style="top:394.2px;right:487.5px;transform-origin:right top;font-family:'Liberation Serif', serif;font-size:23px;line-height:23px;color:#1c1c1c;font-weight:normal;font-style:normal;transform:scaleX(0.985);">24.7</div>
<div class="t  tt" style="top:394.2px;right:401.2px;transform-origin:right top;font-family:'Liberation Serif', serif;font-size:23px;line-height:23px;color:#1c1c1c;font-weight:normal;font-style:normal;transform:scaleX(0.985);">21.5</div>
<div class="t  tt" style="top:394.2px;right:318.7px;transform-origin:right top;font-family:'Liberation Serif', serif;font-size:23px;line-height:23px;color:#4a1420;font-weight:normal;font-style:normal;transform:scaleX(0.985);">32.6</div>
<div class="t  tt" style="top:429.0px;left:301.5px;transform-origin:left top;font-family:'Liberation Serif', serif;font-size:23px;line-height:23px;color:#1c1c1c;font-weight:normal;font-style:normal;transform:scaleX(0.97);">75-90</div>
<div class="t  tt" style="top:429.0px;right:774.5px;transform-origin:right top;font-family:'Liberation Serif', serif;font-size:23px;line-height:23px;color:#1c1c1c;font-weight:normal;font-style:normal;transform:scaleX(0.985);">1.5</div>
<div class="t  tt" style="top:429.0px;right:685.5px;transform-origin:right top;font-family:'Liberation Serif', serif;font-size:23px;line-height:23px;color:#1c1c1c;font-weight:normal;font-style:normal;transform:scaleX(0.985);">2.1</div>
<div class="t  tt" style="top:429.0px;right:599.2px;transform-origin:right top;font-family:'Liberation Serif', serif;font-size:23px;line-height:23px;color:#4a1420;font-weight:normal;font-style:normal;transform:scaleX(0.985);">2.0</div>
<div class="t  tt" style="top:429.0px;right:487.5px;transform-origin:right top;font-family:'Liberation Serif', serif;font-size:23px;line-height:23px;color:#1c1c1c;font-weight:normal;font-style:normal;transform:scaleX(0.985);">8.8</div>
<div class="t  tt" style="top:429.0px;right:401.2px;transform-origin:right top;font-family:'Liberation Serif', serif;font-size:23px;line-height:23px;color:#1c1c1c;font-weight:normal;font-style:normal;transform:scaleX(0.985);">19.8</div>
<div class="t  tt" style="top:429.0px;right:318.7px;transform-origin:right top;font-family:'Liberation Serif', serif;font-size:23px;line-height:23px;color:#4a1420;font-weight:normal;font-style:normal;transform:scaleX(0.985);">37.0</div>
<div class="t  tt" style="top:463.9px;left:301.5px;transform-origin:left top;font-family:'Liberation Serif', serif;font-size:23px;line-height:23px;color:#1c1c1c;font-weight:normal;font-style:normal;transform:scaleX(0.97);">90+</div>
<div class="t  tt" style="top:463.9px;right:774.5px;transform-origin:right top;font-family:'Liberation Serif', serif;font-size:23px;line-height:23px;color:#1c1c1c;font-weight:normal;font-style:normal;transform:scaleX(0.985);">0.8</div>
<div class="t  tt" style="top:463.9px;right:685.5px;transform-origin:right top;font-family:'Liberation Serif', serif;font-size:23px;line-height:23px;color:#1c1c1c;font-weight:normal;font-style:normal;transform:scaleX(0.985);">1.9</div>
<div class="t  tt" style="top:463.9px;right:599.2px;transform-origin:right top;font-family:'Liberation Serif', serif;font-size:23px;line-height:23px;color:#4a1420;font-weight:normal;font-style:normal;transform:scaleX(0.985);">2.9</div>
<div class="t  tt" style="top:463.9px;right:487.5px;transform-origin:right top;font-family:'Liberation Serif', serif;font-size:23px;line-height:23px;color:#1c1c1c;font-weight:normal;font-style:normal;transform:scaleX(0.985);">4.7</div>
<div class="t  tt" style="top:463.9px;right:401.2px;transform-origin:right top;font-family:'Liberation Serif', serif;font-size:23px;line-height:23px;color:#1c1c1c;font-weight:normal;font-style:normal;transform:scaleX(0.985);">11.2</div>
<div class="t  tt" style="top:463.9px;right:318.7px;transform-origin:right top;font-family:'Liberation Serif', serif;font-size:23px;line-height:23px;color:#4a1420;font-weight:normal;font-style:normal;transform:scaleX(0.985);">10.0</div>
<div class="t  tt" style="top:521.2px;left:297.7px;transform-origin:left top;font-family:'Liberation Serif', serif;font-size:23px;line-height:23px;color:#222;font-weight:normal;font-style:normal;transform:scaleX(0.8792);">Sources:  See Table 3.</div>
<div class="t  tt" style="top:560.7px;left:297.5px;transform-origin:left top;font-family:'Liberation Serif', serif;font-size:23px;line-height:23px;color:#222;font-weight:normal;font-style:normal;transform:scaleX(0.9284);">Notes:  This table parallels Table 5, except that homicide rates per 100,000 are</div>
<div class="t  tt" style="top:590.1px;left:297.5px;transform-origin:left top;font-family:'Liberation Serif', serif;font-size:23px;line-height:23px;color:#222;font-weight:normal;font-style:normal;transform:scaleX(0.9135);">reported in place of median family income. Thus, the percentiles in this table are</div>
<div class="t  tt" style="top:619.5px;left:297.5px;transform-origin:left top;font-family:'Liberation Serif', serif;font-size:23px;line-height:23px;color:#222;font-weight:normal;font-style:normal;transform:scaleX(0.9159);">based on median family income in a community, not homicide rates (in contrast</div>
<div class="t sub" style="top:630.8px;left:280.5px;transform-origin:left top;font-family:'Liberation Sans', sans-serif;font-size:32.5px;line-height:32.5px;color:#fff;font-weight:normal;font-style:normal;transform:scaleX(0.9982);">stronger correlation with violent crime</div>
<div class="t sub" style="top:669.5px;left:280.0px;transform-origin:left top;font-family:'Liberation Sans', sans-serif;font-size:32.5px;line-height:32.5px;color:#fff;font-weight:normal;font-style:normal;transform:scaleX(1.0033);">than socioeconomic</div>
<div class="t bandi" style="top:5.8px;left:503.0px;transform-origin:left top;font-family:'Liberation Sans', sans-serif;font-size:19.5px;line-height:19.5px;color:#f2f2f2;font-weight:bold;font-style:normal;transform:scaleX(1.2159);">www.Bandicam.com</div>
<div class="t hyper" style="top:2.2px;left:1005.8px;transform-origin:left top;font-family:'Liberation Sans', sans-serif;font-size:12px;line-height:12px;color:#111;font-weight:normal;font-style:normal;transform:scaleX(1.1407);">Unregistered HyperCam 2</div>
</body></html>
